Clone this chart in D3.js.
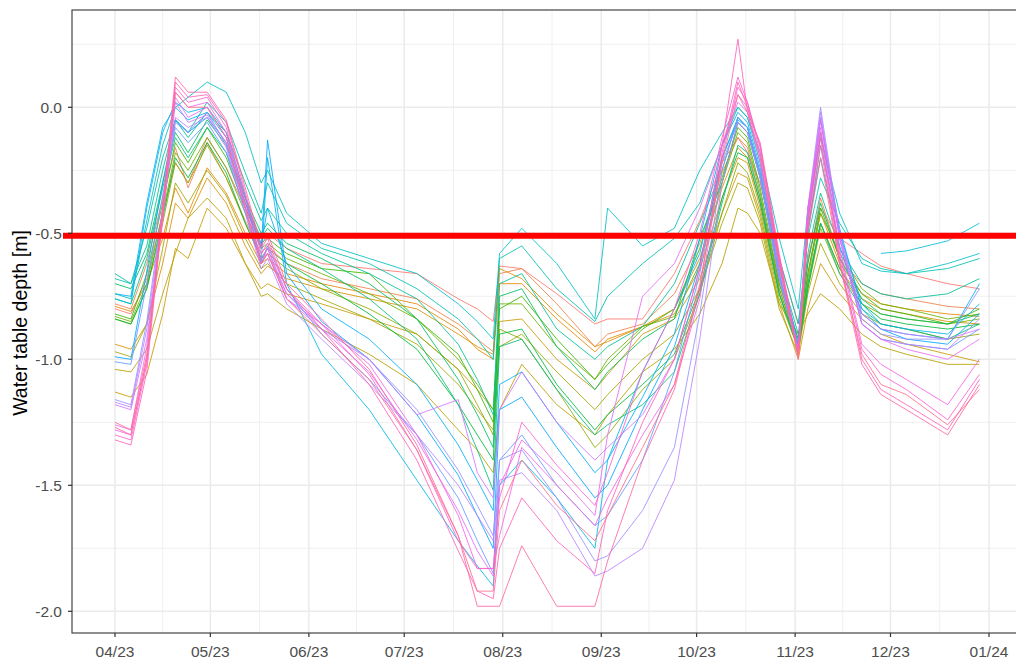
<!DOCTYPE html>
<html><head><meta charset="utf-8">
<script src="https://cdn.jsdelivr.net/npm/d3@7"></script>
<style>body{margin:0;background:#fff}svg{display:block}text{font-family:"Liberation Sans",Arial,sans-serif}</style>
</head><body><svg id="c" width="1016" height="659"></svg>
<script>
// ---------- DATA ----------
const dates = ["2023-04-01","2023-04-06","2023-04-11","2023-04-16","2023-04-20","2023-04-24","2023-04-30","2023-05-06","2023-05-12","2023-05-17","2023-05-19","2023-05-25",
  "2023-06-05","2023-06-20","2023-07-05","2023-07-18","2023-07-24","2023-07-29","2023-07-31",
  "2023-08-07","2023-08-18","2023-08-30",
  "2023-09-03","2023-09-14","2023-09-24",
  "2023-10-02","2023-10-09","2023-10-14","2023-10-17","2023-10-21","2023-10-27",
  "2023-11-02","2023-11-05","2023-11-09","2023-11-15","2023-11-22","2023-11-28",
  "2023-12-06","2023-12-19","2023-12-29"];

const s00 = [-0.80,-0.82,-0.68,-0.42,-0.22,-0.30,-0.12,-0.24,-0.40,-0.52,-0.50,-0.56, -0.62,-0.64,-0.66,-0.76,-0.80,-0.85,-0.63, -0.64,-0.74,-0.86, -0.84,-0.84,-0.66, -0.45,-0.22,-0.12,-0.18,-0.30,-0.60, -0.86,-0.60,-0.40,-0.52,-0.58,-0.63, -0.66,-0.70,-0.72];
const s01 = [-0.78,-0.80,-0.62,-0.36,-0.16,-0.32,-0.14,-0.28,-0.45,-0.58,-0.55,-0.62, -0.68,-0.72,-0.76,-0.86,-0.92,-0.97,-0.66, -0.64,-0.78,-0.95, -0.90,-0.86,-0.74, -0.54,-0.26,-0.12,-0.16,-0.36,-0.70, -0.92,-0.62,-0.36,-0.60,-0.70,-0.74, -0.76,-0.79,-0.80];
const s02 = [-0.79,-0.81,-0.70,-0.52,-0.32,-0.42,-0.24,-0.34,-0.50,-0.62,-0.60,-0.66, -0.70,-0.74,-0.78,-0.88,-0.96,-1.00,-0.70, -0.70,-0.84,-0.97, -0.92,-0.87,-0.80, -0.60,-0.32,-0.16,-0.20,-0.38,-0.72, -0.95,-0.66,-0.42,-0.62,-0.74,-0.78, -0.80,-0.82,-0.83];
const s03 = [-0.94,-0.96,-0.86,-0.62,-0.38,-0.44,-0.28,-0.38,-0.55,-0.66,-0.63,-0.68, -0.72,-0.76,-0.80,-0.90,-0.95,-0.98,-0.64, -0.68,-0.82,-0.95, -0.93,-0.87,-0.82, -0.64,-0.36,-0.20,-0.22,-0.40,-0.74, -0.96,-0.70,-0.46,-0.64,-0.76,-0.80, -0.82,-0.85,-0.86];
const s04 = [-1.13,-1.15,-1.06,-0.82,-0.56,-0.60,-0.40,-0.48,-0.62,-0.72,-0.70,-0.74, -0.78,-0.84,-0.90,-1.04,-1.12,-1.20,-0.85, -0.84,-1.00,-1.12, -1.06,-0.90,-0.84, -0.68,-0.42,-0.26,-0.28,-0.44,-0.78, -1.00,-0.80,-0.62,-0.74,-0.84,-0.90, -0.94,-0.98,-1.01];
const s05 = [-1.04,-1.05,-0.96,-0.74,-0.58,-0.44,-0.36,-0.44,-0.62,-0.75,-0.74,-0.80, -0.88,-0.98,-1.10,-1.28,-1.36,-1.45,-1.20, -1.02,-1.18,-1.30, -1.22,-1.05,-0.96, -0.82,-0.62,-0.40,-0.42,-0.50,-0.78, -0.90,-0.82,-0.74,-0.80,-0.90,-0.95, -0.98,-1.02,-1.02];
const s06 = [-0.97,-0.99,-0.86,-0.56,-0.30,-0.38,-0.25,-0.35,-0.52,-0.64,-0.62,-0.70, -0.76,-0.84,-0.94,-1.10,-1.20,-1.28,-0.95, -0.90,-1.05,-1.20, -1.14,-1.00,-0.90, -0.72,-0.46,-0.30,-0.32,-0.46,-0.80, -0.98,-0.74,-0.54,-0.70,-0.82,-0.86, -0.88,-0.92,-0.90];
const s07 = [-0.84,-0.86,-0.72,-0.46,-0.22,-0.30,-0.15,-0.28,-0.46,-0.60,-0.58,-0.64, -0.72,-0.80,-0.90,-1.04,-1.18,-1.30,-0.88, -0.92,-1.12,-1.35, -1.30,-1.12,-1.00, -0.74,-0.42,-0.22,-0.26,-0.42,-0.76, -0.96,-0.72,-0.48,-0.66,-0.78,-0.82, -0.84,-0.86,-0.84];
const s08 = [-0.83,-0.85,-0.70,-0.42,-0.18,-0.25,-0.12,-0.24,-0.42,-0.56,-0.54,-0.60, -0.66,-0.74,-0.84,-1.00,-1.10,-1.20,-0.78, -0.78,-0.95,-1.08, -1.00,-0.87,-0.83, -0.62,-0.30,-0.10,-0.14,-0.34,-0.72, -0.95,-0.68,-0.42,-0.58,-0.72,-0.78, -0.80,-0.84,-0.82];
const s09 = [-0.82,-0.84,-0.66,-0.38,-0.14,-0.22,-0.08,-0.20,-0.40,-0.54,-0.52,-0.58, -0.64,-0.66,-0.84,-0.98,-1.12,-1.25,-0.80, -0.75,-0.92,-1.08, -1.02,-0.88,-0.80, -0.56,-0.28,-0.08,-0.12,-0.32,-0.70, -0.94,-0.66,-0.40,-0.60,-0.74,-0.80, -0.82,-0.86,-0.80];
const s10 = [-0.84,-0.86,-0.72,-0.44,-0.20,-0.28,-0.14,-0.26,-0.46,-0.60,-0.56,-0.62, -0.70,-0.82,-0.96,-1.18,-1.30,-1.40,-0.90, -0.88,-1.10,-1.28, -1.22,-1.10,-0.98, -0.72,-0.36,-0.18,-0.20,-0.38,-0.74, -0.96,-0.72,-0.46,-0.64,-0.78,-0.84, -0.86,-0.88,-0.86];
const s11 = [-0.70,-0.72,-0.58,-0.30,-0.10,-0.18,-0.05,-0.15,-0.36,-0.50,-0.46,-0.54, -0.60,-0.70,-0.84,-1.08,-1.22,-1.35,-0.75, -0.72,-0.95,-1.12, -1.05,-0.92,-0.84, -0.52,-0.30,-0.06,-0.10,-0.28,-0.68, -0.92,-0.62,-0.38,-0.60,-0.76,-0.82, -0.84,-0.86,-0.82];
const s12 = [-0.76,-0.78,-0.60,-0.32,-0.12,-0.20,-0.08,-0.18,-0.38,-0.52,-0.48,-0.56, -0.64,-0.76,-0.92,-1.18,-1.36,-1.52,-0.95, -0.92,-1.12,-1.30, -1.26,-1.18,-1.05, -0.74,-0.38,-0.15,-0.18,-0.36,-0.74, -0.96,-0.70,-0.46,-0.66,-0.80,-0.86, -0.88,-0.92,-0.86];
const s13 = [-0.66,-0.70,-0.55,-0.25,-0.05,-0.12,-0.02,-0.10,-0.30,-0.45,-0.40,-0.50, -0.58,-0.66,-0.76,-0.94,-1.08,-1.22,-0.70, -0.66,-0.88,-1.00, -0.95,-0.87,-0.70, -0.46,-0.25,-0.04,-0.08,-0.26,-0.64, -0.90,-0.58,-0.34,-0.56,-0.70,-0.74, -0.76,-0.74,-0.68];
const s14 = [-0.68,-0.70,-0.48,-0.20,-0.05,-0.10,0.02,-0.06,-0.26,-0.42,-0.30,-0.46, -0.56,-0.62,-0.72,-0.84,-0.92,-1.00,-0.60, -0.55,-0.72,-0.85, -0.75,-0.62,-0.52, -0.38,-0.15,0.00,-0.04,-0.22,-0.60, -0.86,-0.52,-0.28,-0.46,-0.60,-0.64, -0.66,-0.64,-0.60];
const s15 = [-0.74,-0.76,-0.45,-0.15,0.00,0.04,0.10,0.06,-0.10,-0.30,-0.25,-0.42, -0.54,-0.60,-0.66,-0.78,-0.85,-0.92,-0.58, -0.48,-0.62,-0.84, -0.40,-0.55,-0.48, -0.25,-0.10,0.00,-0.04,-0.18,-0.52, -0.80,-0.40,-0.12,-0.42,-0.62,-0.65, -0.66,-0.62,-0.58];
const s16 = [null,null,null,null,null,null,null,null,null,null,null,null, null,null,null,null,null,null,null, null,null,null, null,null,null, null,null,null,null,null,null, null,null,null,null,null,-0.58, -0.57,-0.53,-0.46];
const s17 = [-0.76,-0.78,-0.40,-0.10,0.02,-0.02,0.00,-0.10,-0.35,-0.62,-0.20,-0.70, -0.98,-1.20,-1.48,-1.72,-1.82,-1.90,-1.50, -1.40,-1.55,-1.75, -1.40,-1.05,-0.80, -0.58,-0.20,-0.04,-0.08,-0.28,-0.66, -0.95,-0.50,-0.15,-0.50,-0.78,-0.86, -0.88,-0.90,-0.78];
const s18 = [-0.74,-0.75,-0.38,-0.08,0.00,-0.05,-0.02,-0.12,-0.36,-0.55,-0.40,-0.62, -0.80,-0.92,-1.10,-1.34,-1.48,-1.60,-1.10, -1.05,-1.25,-1.45, -1.40,-1.15,-0.90, -0.52,-0.15,-0.02,-0.06,-0.24,-0.62, -0.94,-0.45,-0.10,-0.48,-0.80,-0.88, -0.90,-0.92,-0.70];
const s19 = [-0.99,-1.00,-0.65,-0.30,-0.05,-0.10,-0.04,-0.14,-0.38,-0.56,-0.13,-0.66, -0.85,-1.00,-1.22,-1.46,-1.62,-1.75,-1.20, -1.15,-1.35,-1.55, -1.50,-1.20,-0.95, -0.62,-0.20,-0.05,-0.08,-0.26,-0.66, -0.96,-0.48,-0.20,-0.55,-0.82,-0.88, -0.92,-0.94,-0.82];
const s20 = [-1.01,-1.02,-0.70,-0.35,-0.08,-0.14,-0.06,-0.18,-0.42,-0.62,-0.55,-0.72, -0.90,-1.08,-1.30,-1.55,-1.72,-1.85,-1.40, -1.30,-1.50,-1.66, -1.62,-1.40,-1.05, -0.66,-0.22,-0.06,-0.10,-0.28,-0.68, -0.97,-0.45,-0.05,-0.52,-0.86,-0.92, -0.94,-0.96,-0.88];
const s21 = [-1.16,-1.18,-0.85,-0.40,-0.06,-0.10,-0.02,-0.15,-0.40,-0.62,-0.58,-0.74, -0.88,-1.00,-1.20,-1.44,-1.58,-1.70,-1.40, -1.36,-1.55,-1.80, -1.78,-1.60,-1.35, -0.82,-0.25,-0.04,-0.08,-0.26,-0.66, -0.96,-0.40,0.00,-0.50,-0.84,-0.90, -0.92,-0.92,-0.72];
const s22 = [-1.17,-1.19,-0.88,-0.42,-0.04,-0.08,-0.04,-0.16,-0.42,-0.64,-0.60,-0.78, -0.92,-1.10,-1.30,-1.50,-1.62,-1.72,-1.48, -1.45,-1.60,-1.86, -1.84,-1.75,-1.48, -0.92,-0.30,-0.06,-0.10,-0.28,-0.68, -0.97,-0.42,-0.02,-0.52,-0.86,-0.92, -0.94,-0.96,-0.84];
const s23 = [-1.18,-1.20,-0.92,-0.45,0.02,-0.06,-0.03,-0.14,-0.40,-0.62,-0.56,-0.76, -0.86,-1.00,-1.22,-1.16,-1.45,-1.55,-1.20, -1.05,-1.25,-1.40, -1.35,-1.22,-1.00, -0.64,-0.15,0.02,-0.02,-0.22,-0.64, -0.96,-0.42,-0.04,-0.50,-0.82,-0.88, -0.90,-0.92,-0.88];
const s24 = [-1.26,-1.28,-0.95,-0.40,0.04,-0.04,0.00,-0.12,-0.40,-0.62,-0.58,-0.76, -0.88,-1.05,-1.32,-1.60,-1.76,-1.86,-1.50, -1.32,-1.45,-1.62, -1.30,-0.75,-0.62, -0.40,-0.15,0.05,0.00,-0.20,-0.62, -0.96,-0.40,-0.05,-0.52,-0.86,-0.92, -0.96,-1.00,-0.92];
const s25 = [-1.28,-1.30,-1.00,-0.42,0.06,0.00,0.02,-0.10,-0.38,-0.60,-0.56,-0.74, -0.86,-1.02,-1.30,-1.62,-1.83,-1.83,-1.70, -1.35,-1.50,-1.66, -1.55,-1.30,-1.10, -0.76,-0.20,0.08,0.02,-0.18,-0.60, -0.98,-0.42,-0.08,-0.56,-0.94,-1.02, -1.08,-1.18,-1.00];
const s26 = [-1.30,-1.32,-1.02,-0.40,0.08,0.02,0.04,-0.08,-0.36,-0.58,-0.54,-0.72, -0.86,-1.06,-1.36,-1.72,-1.83,-1.83,-1.55, -1.25,-1.42,-1.58, -1.45,-1.05,-0.80, -0.50,-0.12,0.12,0.02,-0.16,-0.60, -0.98,-0.44,-0.10,-0.58,-0.96,-1.06, -1.12,-1.24,-1.06];
const s27 = [-1.32,-1.34,-1.05,-0.42,0.10,0.04,0.05,-0.06,-0.34,-0.56,-0.52,-0.72, -0.88,-1.10,-1.40,-1.76,-1.92,-1.95,-1.75, -1.55,-1.72,-1.85, -1.60,-1.25,-1.00, -0.64,-0.15,0.27,-0.02,-0.14,-0.58, -0.98,-0.46,-0.12,-0.60,-1.00,-1.12, -1.18,-1.28,-1.08];
const s28 = [-1.27,-1.30,-1.00,-0.40,0.12,0.06,0.06,-0.05,-0.32,-0.55,-0.50,-0.70, -0.84,-1.04,-1.34,-1.70,-1.98,-1.98,-1.98, -1.74,-1.98,-1.98, -1.80,-1.40,-1.12, -0.72,-0.18,0.10,0.00,-0.15,-0.60, -1.00,-0.48,-0.15,-0.62,-1.02,-1.14, -1.20,-1.30,-1.10];
const s29 = [-1.25,-1.28,-0.98,-0.44,0.06,0.00,0.00,-0.12,-0.40,-0.62,-0.58,-0.76, -0.90,-1.08,-1.36,-1.70,-1.92,-1.92,-1.60, -1.40,-1.58,-1.72, -1.62,-1.35,-1.10, -0.70,-0.22,0.05,-0.02,-0.20,-0.62, -0.99,-0.50,-0.20,-0.62,-0.98,-1.10, -1.14,-1.26,-1.12];

const seriesValues = [s00,s01,s02,s03,s04,s05,s06,s07,s08,s09,s10,s11,s12,s13,s14,s15,s16,s17,s18,s19,s20,s21,s22,s23,s24,s25,s26,s27,s28,s29];

const xTicks = ["2023-04-01","2023-05-01","2023-06-01","2023-07-01","2023-08-01","2023-09-01","2023-10-01","2023-11-01","2023-12-01","2024-01-01"];
const xTickLabels = ["04/23","05/23","06/23","07/23","08/23","09/23","10/23","11/23","12/23","01/24"];
const yTicks = [0, -0.5, -1.0, -1.5, -2.0];
const yTickLabels = ["0.0","-0.5","-1.0","-1.5","-2.0"];
const threshold = -0.51;
const yTitle = "Water table depth [m]";

// ---------- LAYOUT ----------
const svg = d3.select("#c");
const parse = d3.utcParse("%Y-%m-%d");
const P = {l: 72, r: 1021, t: 10, b: 633};
const x = d3.scaleUtc().domain([parse("2023-04-01"), parse("2024-01-01")]).range([115, 989]);
const y = d3.scaleLinear().domain([0, -2]).range([107.3, 611.3]);

// ggplot hue palette (polar LUV)
function hclLuv(h, c, l) {
  const Xn = 95.047, Yn = 100, Zn = 108.883;
  const un = 4*Xn/(Xn+15*Yn+3*Zn), vn = 9*Yn/(Xn+15*Yn+3*Zn);
  const hr = h*Math.PI/180, U = c*Math.cos(hr), V = c*Math.sin(hr);
  const Y = Yn*Math.pow((l+16)/116, 3);
  const up = U/(13*l)+un, vp = V/(13*l)+vn;
  const X = Y*9*up/(4*vp), Z = Y*(12-3*up-20*vp)/(4*vp);
  const xx = X/100, yy = Y/100, zz = Z/100;
  const r = 3.2404542*xx - 1.5371385*yy - 0.4985314*zz;
  const g = -0.9692660*xx + 1.8760108*yy + 0.0415560*zz;
  const b = 0.0556434*xx - 0.2040259*yy + 1.0572252*zz;
  const gam = v => { v = v <= 0.0031308 ? 12.92*v : 1.055*Math.pow(v, 1/2.4) - 0.055; return Math.round(Math.max(0, Math.min(1, v))*255); };
  return d3.rgb(gam(r), gam(g), gam(b)).formatHex();
}
const n = seriesValues.length;
const colors = d3.range(n).map(i => hclLuv(15 + 360*i/n, 100, 65));

svg.append("defs").append("clipPath").attr("id","clip")
  .append("rect").attr("x",P.l).attr("y",P.t).attr("width",P.r-P.l).attr("height",P.b-P.t);

// grid
const grid = svg.append("g");
const xMaj = xTicks.map(d => x(parse(d)));
const xMin = d3.range(xMaj.length-1).map(i => (xMaj[i]+xMaj[i+1])/2);
const yMin = [0.25, -0.25, -0.75, -1.25, -1.75];
grid.selectAll(".xmin").data(xMin).join("line")
  .attr("x1",d=>d).attr("x2",d=>d).attr("y1",P.t).attr("y2",P.b)
  .attr("stroke","#f0f0f0").attr("stroke-width",1);
grid.selectAll(".ymin").data(yMin).join("line")
  .attr("x1",P.l).attr("x2",P.r).attr("y1",d=>y(d)).attr("y2",d=>y(d))
  .attr("stroke","#f0f0f0").attr("stroke-width",1);
grid.selectAll(".xmaj").data(xMaj).join("line")
  .attr("x1",d=>d).attr("x2",d=>d).attr("y1",P.t).attr("y2",P.b)
  .attr("stroke","#ebebeb").attr("stroke-width",1.5);
grid.selectAll(".ymaj").data(yTicks).join("line")
  .attr("x1",P.l).attr("x2",P.r).attr("y1",d=>y(d)).attr("y2",d=>y(d))
  .attr("stroke","#ebebeb").attr("stroke-width",1.5);

// lines
const line = d3.line().defined(d => d.v !== null).x(d => x(d.date)).y(d => y(d.v));
const parsedDates = dates.map(parse);
svg.append("g").attr("clip-path","url(#clip)")
  .selectAll("path").data(seriesValues).join("path")
  .attr("d", vals => line(vals.map((v,i) => ({date: parsedDates[i], v}))))
  .attr("fill","none")
  .attr("stroke",(d,i)=>colors[i])
  .attr("stroke-width",0.85)
  .attr("stroke-linejoin","round");

// border
svg.append("rect").attr("x",P.l).attr("y",P.t).attr("width",P.r-P.l).attr("height",P.b-P.t)
  .attr("fill","none").attr("stroke","#444").attr("stroke-width",1.2);

// threshold line
svg.append("line").attr("x1",63).attr("x2",1016).attr("y1",y(threshold)).attr("y2",y(threshold))
  .attr("stroke","#ff0000").attr("stroke-width",6);

// axes
const ax = svg.append("g");
ax.selectAll(".xt").data(xTicks).join("line")
  .attr("x1",d=>x(parse(d))).attr("x2",d=>x(parse(d))).attr("y1",P.b).attr("y2",P.b+4)
  .attr("stroke","#333").attr("stroke-width",1.2);
ax.selectAll(".xl").data(xTicks).join("text")
  .attr("x",d=>x(parse(d))).attr("y",657).attr("text-anchor","middle")
  .attr("font-size",15.5).attr("fill","#4d4d4d").text((d,i)=>xTickLabels[i]);
ax.selectAll(".yt").data(yTicks).join("line")
  .attr("x1",P.l-4).attr("x2",P.l).attr("y1",d=>y(d)).attr("y2",d=>y(d))
  .attr("stroke","#333").attr("stroke-width",1.2);
ax.selectAll(".yl").data(yTicks).join("text")
  .attr("x",62).attr("y",d=>y(d)).attr("dy","0.36em").attr("text-anchor","end")
  .attr("font-size",15.5).attr("fill","#4d4d4d").text((d,i)=>yTickLabels[i]);
svg.append("text").attr("transform","translate(27,323) rotate(-90)")
  .attr("text-anchor","middle").attr("font-size",19.5).attr("fill","#000").text(yTitle);
</script></body></html>
